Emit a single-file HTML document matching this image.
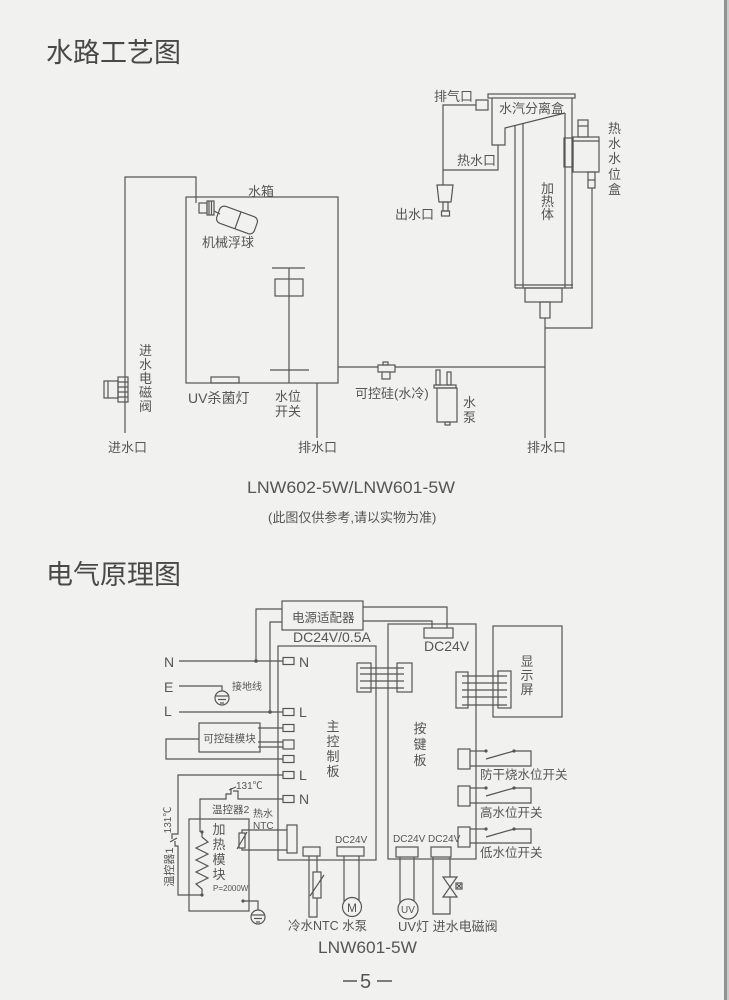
<!DOCTYPE html>
<html><head><meta charset="utf-8">
<style>
html,body{margin:0;padding:0;background:#f1f2ef;}
svg{display:block;}
text{font-family:"Liberation Sans","Noto Sans CJK SC",sans-serif;fill:#555;}
</style></head><body>
<svg width="729" height="1000" viewBox="0 0 729 1000" xmlns="http://www.w3.org/2000/svg">
<rect width="729" height="1000" fill="#f1f2ef"/>
<rect x="724" y="0" width="3" height="1000" fill="#8e9492"/>
<rect x="727" y="0" width="2" height="1000" fill="#c9cdcb"/>

<!-- Titles -->
<text x="46" y="62" font-size="27" style="fill:#484848">水路工艺图</text>
<text x="46" y="584" font-size="27" style="fill:#484848">电气原理图</text>

<!-- ============ WATER DIAGRAM ============ -->
<g fill="none" stroke="#555" stroke-width="1.2">
  <!-- inlet pipe -->
  <polyline points="125,433 125,177 196,177 196,203"/>
  <!-- tank -->
  <rect x="186" y="197" width="152" height="186"/>
  <!-- level switch -->
  <line x1="289" y1="268" x2="289" y2="383"/>
  <line x1="272" y1="268" x2="305" y2="268"/>
  <rect x="275" y="279" width="28" height="17"/>
  <line x1="270" y1="370" x2="309" y2="370"/>
  <!-- UV lamp -->
  <rect x="211" y="377" width="28" height="6"/>
  <!-- drain -->
  <line x1="317" y1="383" x2="317" y2="438"/>
  <!-- outlet line -->
  <line x1="338" y1="367" x2="545" y2="367"/>
  <!-- main vertical -->
  <line x1="545" y1="318" x2="545" y2="438"/>
  <!-- level box return -->
  <polyline points="592,188 592,328 545,328"/>
  <!-- vent & hot lines -->
  <polyline points="476,105 443,105 443,185"/>
  <polyline points="498,145 498,170 443,170"/>
  <!-- heater -->
  <line x1="515" y1="125.5" x2="515" y2="288"/>
  <line x1="523" y1="123.5" x2="523" y2="288"/>
  <line x1="565" y1="113" x2="565" y2="288"/>
  <line x1="572" y1="98" x2="572" y2="288"/>
  <line x1="515" y1="285" x2="573" y2="285"/>
  <line x1="515" y1="288" x2="573" y2="288"/>
  <rect x="525" y="288" width="37" height="14"/>
  <rect x="540" y="302" width="10" height="16"/>
  <!-- separator -->
  <rect x="488" y="94" width="87" height="4"/>
  <polyline points="492,98 492,145 505,145 505,128 565,113"/>
  <rect x="476" y="100" width="12" height="10"/>
  <!-- outlet nozzle -->
  <path d="M437,185 L453,185 L451,202 L439,202 Z"/>
  <rect x="443" y="202" width="5" height="9"/>
  <rect x="441.5" y="211" width="8" height="5"/>
  <!-- hot water level box -->
  <rect x="578" y="120" width="10" height="17"/>
  <line x1="578" y1="126" x2="588" y2="126"/>
  <rect x="573" y="137" width="26" height="35"/>
  <line x1="573" y1="141" x2="599" y2="141"/>
  <rect x="564" y="138" width="9" height="29"/>
  <rect x="588" y="172" width="7" height="16"/>
  <line x1="588" y1="180" x2="595" y2="180"/>
  <!-- SCR water-cooled -->
  <rect x="378" y="365" width="17" height="7" fill="#f1f2ef"/>
  <rect x="382" y="372" width="8" height="7" fill="#f1f2ef"/>
  <rect x="383" y="362" width="5" height="3"/>
  <!-- pump -->
  <rect x="436" y="370" width="4" height="15"/>
  <rect x="447" y="372" width="4" height="13"/>
  <rect x="434" y="385" width="22" height="3"/>
  <rect x="437" y="388" width="20" height="34"/>
  <rect x="445" y="422" width="5" height="3"/>
  <!-- float valve -->
  <rect x="199" y="203" width="8" height="10"/>
  <rect x="207" y="201" width="7" height="14"/>
  <line x1="209" y1="201" x2="209" y2="215"/>
  <line x1="211.5" y1="201" x2="211.5" y2="215"/>
  <line x1="214" y1="211" x2="220" y2="214"/>
  <g transform="rotate(20 237 220)">
    <rect x="217" y="211" width="40" height="18" rx="5"/>
    <line x1="238" y1="211" x2="238" y2="229"/>
  </g>
  <!-- inlet solenoid valve -->
  <rect x="104" y="381" width="14" height="17"/>
  <line x1="108" y1="381" x2="108" y2="398"/>
  <rect x="118" y="377" width="10" height="25"/>
  <line x1="118" y1="382" x2="128" y2="382"/>
  <line x1="118" y1="387" x2="128" y2="387"/>
  <line x1="118" y1="392" x2="128" y2="392"/>
  <line x1="118" y1="397" x2="128" y2="397"/>
</g>

<!-- water texts -->
<g font-size="13">
  <text x="248" y="196">水箱</text>
  <text x="202" y="247">机械浮球</text>
  <text x="188" y="403" font-size="14">UV杀菌灯</text>
  <text x="275" y="401">水位</text>
  <text x="275" y="416">开关</text>
  <text x="108" y="452">进水口</text>
  <text x="298" y="452">排水口</text>
  <text x="139" y="355">进</text>
  <text x="139" y="369">水</text>
  <text x="139" y="383">电</text>
  <text x="139" y="397">磁</text>
  <text x="139" y="411">阀</text>
  <text x="355" y="398">可控硅(水冷)</text>
  <text x="463" y="407">水</text>
  <text x="463" y="422">泵</text>
  <text x="527" y="452">排水口</text>
  <text x="434" y="101">排气口</text>
  <text x="499" y="113">水汽分离盒</text>
  <text x="457" y="165">热水口</text>
  <text x="395" y="219">出水口</text>
  <text x="541" y="193">加</text>
  <text x="541" y="206">热</text>
  <text x="541" y="219">体</text>
  <text x="608" y="133">热</text>
  <text x="608" y="148">水</text>
  <text x="608" y="163">水</text>
  <text x="608" y="179">位</text>
  <text x="608" y="194">盒</text>
</g>
<text x="247" y="493" font-size="17" textLength="208" lengthAdjust="spacingAndGlyphs">LNW602-5W/LNW601-5W</text>
<text x="268" y="522" font-size="13">(此图仅供参考,请以实物为准)</text>

<!-- ============ ELECTRICAL DIAGRAM ============ -->
<g fill="none" stroke="#555" stroke-width="1.2">
  <rect x="282" y="601" width="81" height="29"/>
  <polyline points="282,609 256,609 256,661"/>
  <polyline points="282,622 270,622 270,712"/>
  <polyline points="363,607 447,607 447,628"/>
  <polyline points="363,621 432,621 432,628"/>
  <rect x="424" y="628" width="29" height="10"/>
  <!-- boards -->
  <rect x="388" y="624" width="88" height="235"/>
  <rect x="278" y="646" width="98" height="214"/>
  <!-- N E L -->
  <line x1="179" y1="661" x2="283" y2="661"/>
  <polyline points="179,686 222,686 222,691"/>
  <circle cx="222" cy="698" r="7"/>
  <line x1="216" y1="696" x2="228" y2="696"/>
  <line x1="218" y1="699.5" x2="226" y2="699.5"/>
  <line x1="220" y1="703" x2="224" y2="703"/>
  <line x1="179" y1="712" x2="283" y2="712"/>
  <!-- terminals -->
  <rect x="283" y="657.5" width="11" height="7"/>
  <rect x="283" y="708.5" width="11" height="7"/>
  <rect x="283" y="724.5" width="11" height="7"/>
  <rect x="283" y="740" width="11" height="9"/>
  <rect x="283" y="755.5" width="11" height="7"/>
  <rect x="283" y="771.5" width="11" height="7"/>
  <rect x="283" y="795.5" width="11" height="7"/>
  <!-- SCR module -->
  <rect x="199" y="723" width="61" height="29"/>
  <line x1="258" y1="728" x2="283" y2="728"/>
  <line x1="258" y1="742" x2="283" y2="742"/>
  <line x1="258" y1="747" x2="283" y2="747"/>
  <polyline points="199,739 166,739 166,759 283,759"/>
  <!-- L to thermostat1 -->
  <polyline points="283,775 178,775 178,834 172,834 172,839"/>
  <polyline points="175,841 175,846 178,846 178,895 202,895"/>
  <line x1="170" y1="842" x2="177" y2="838"/>
  <!-- N to thermostat2 -->
  <polyline points="283,799 238,799 238,791 233,791"/>
  <polyline points="231,788 231,794 226,794 226,799 200,799 200,832"/>
  <line x1="229" y1="790" x2="236" y2="787"/>
  <!-- heater -->
  <rect x="189" y="819" width="60" height="92"/>
  <polyline points="202,832 202,837 208,842 196,848 208,854 196,860 208,866 196,872 208,878 196,884 202,889 202,895"/>
  <polyline points="243,901 258,901 258,910"/>
  <circle cx="258" cy="917" r="7"/>
  <line x1="252" y1="915" x2="264" y2="915"/>
  <line x1="254" y1="918.5" x2="262" y2="918.5"/>
  <line x1="256" y1="922" x2="260" y2="922"/>
  <!-- hot NTC -->
  <rect x="239" y="833" width="6" height="15"/>
  <line x1="237" y1="849" x2="247" y2="832"/>
  <polyline points="242,833 242,830 287,830"/>
  <polyline points="242,848 242,850 287,850"/>
  <rect x="287" y="825" width="10" height="28"/>
  <!-- cold NTC -->
  <rect x="303" y="847" width="17" height="9"/>
  <polyline points="309,856 309,917 317,917 317,898"/>
  <line x1="317" y1="856" x2="317" y2="872"/>
  <rect x="313" y="872" width="8" height="26"/>
  <line x1="310" y1="896" x2="324" y2="875"/>
  <!-- pump -->
  <rect x="337" y="847" width="27" height="9"/>
  <line x1="344" y1="856" x2="344" y2="903"/>
  <line x1="359" y1="856" x2="359" y2="903"/>
  <circle cx="352" cy="907" r="9.5" fill="#f1f2ef"/>
  <!-- board connectors -->
  <rect x="357" y="663" width="14" height="29"/>
  <rect x="397" y="663" width="15" height="29"/>
  <line x1="360" y1="668" x2="404" y2="668"/>
  <line x1="360" y1="674" x2="404" y2="674"/>
  <line x1="360" y1="681" x2="404" y2="681"/>
  <line x1="360" y1="688" x2="404" y2="688"/>
  <rect x="456" y="672" width="12" height="36"/>
  <rect x="498" y="671" width="13" height="37"/>
  <line x1="462" y1="676" x2="507" y2="676"/>
  <line x1="462" y1="683" x2="507" y2="683"/>
  <line x1="462" y1="690" x2="507" y2="690"/>
  <line x1="462" y1="697" x2="507" y2="697"/>
  <line x1="462" y1="705" x2="507" y2="705"/>
  <rect x="493" y="626" width="69" height="91"/>
  <!-- switches -->
  <rect x="458" y="749" width="12" height="20"/>
  <polyline points="470,751 486,751"/>
  <line x1="486" y1="759" x2="514" y2="751"/>
  <polyline points="514,751 531,751 531,766 470,766"/>
  <rect x="458" y="786" width="12" height="20"/>
  <polyline points="470,788 486,788"/>
  <line x1="486" y1="796" x2="514" y2="788"/>
  <polyline points="514,788 531,788 531,803 470,803"/>
  <rect x="458" y="827" width="12" height="20"/>
  <polyline points="470,829 486,829"/>
  <line x1="486" y1="837" x2="514" y2="829"/>
  <polyline points="514,829 531,829 531,843 470,843"/>
  <!-- UV -->
  <rect x="396" y="847" width="22" height="10"/>
  <line x1="400" y1="857" x2="400" y2="904"/>
  <line x1="414" y1="857" x2="414" y2="904"/>
  <circle cx="408" cy="909" r="10" fill="#f1f2ef"/>
  <!-- valve -->
  <rect x="431" y="847" width="20" height="10"/>
  <polyline points="433,857 433,914 450,914 450,857"/>
  <path d="M443,877 L457,877 L443,897 L457,897 Z" fill="#f1f2ef"/>
  <rect x="456" y="883" width="6" height="6"/>
  <line x1="457" y1="884" x2="461" y2="888"/>
  <line x1="461" y1="884" x2="457" y2="888"/>
</g>
<g fill="#555">
  <circle cx="256" cy="661" r="1.8"/>
  <circle cx="270" cy="712" r="1.8"/>
  <circle cx="202" cy="832" r="1.6"/>
  <circle cx="202" cy="895" r="1.6"/>
  <circle cx="243" cy="901" r="1.6"/>
  <circle cx="486" cy="751" r="1.6"/>
  <circle cx="514" cy="751" r="1.6"/>
  <circle cx="486" cy="788" r="1.6"/>
  <circle cx="514" cy="788" r="1.6"/>
  <circle cx="486" cy="829" r="1.6"/>
  <circle cx="514" cy="829" r="1.6"/>
</g>

<!-- electrical texts -->
<text x="292" y="622" font-size="12.5">电源适配器</text>
<text x="293" y="642" font-size="14">DC24V/0.5A</text>
<text x="424" y="651" font-size="14">DC24V</text>
<text x="164" y="667" font-size="14">N</text>
<text x="164" y="692" font-size="14">E</text>
<text x="164" y="716" font-size="14">L</text>
<text x="232" y="690" font-size="10">接地线</text>
<text x="299" y="667" font-size="14">N</text>
<text x="299" y="717" font-size="14">L</text>
<text x="299" y="780" font-size="14">L</text>
<text x="299" y="804" font-size="14">N</text>
<text x="229.5" y="742" font-size="10.5" text-anchor="middle">可控硅模块</text>
<g font-size="13">
  <text x="326.5" y="731">主</text>
  <text x="326.5" y="746">控</text>
  <text x="326.5" y="761">制</text>
  <text x="326.5" y="776">板</text>
  <text x="413.5" y="733">按</text>
  <text x="413.5" y="749">键</text>
  <text x="413.5" y="765">板</text>
  <text x="520.5" y="666">显</text>
  <text x="520.5" y="680">示</text>
  <text x="520.5" y="694">屏</text>
  <text x="212.5" y="834">加</text>
  <text x="212.5" y="849">热</text>
  <text x="212.5" y="864">模</text>
  <text x="212.5" y="879">块</text>
</g>
<text x="236" y="789" font-size="10">131℃</text>
<text x="212" y="813" font-size="10.5">温控器2</text>
<text x="253" y="817" font-size="10">热水</text>
<text x="253" y="829" font-size="10">NTC</text>
<text x="213" y="891" font-size="8">P=2000W</text>
<text x="168" y="823" font-size="10" text-anchor="middle" transform="rotate(-90 168 820)">131℃</text>
<text x="169" y="871" font-size="11" text-anchor="middle" transform="rotate(-90 169 867)">温控器1</text>
<text x="335" y="843" font-size="10">DC24V</text>
<text x="393" y="842" font-size="10">DC24V</text>
<text x="428" y="842" font-size="10">DC24V</text>
<text x="352" y="912" font-size="12" text-anchor="middle">M</text>
<text x="408" y="913" font-size="10" text-anchor="middle">UV</text>
<text x="288" y="930" font-size="12.5">冷水NTC 水泵</text>
<text x="398" y="931" font-size="13">UV灯 进水电磁阀</text>
<text x="480" y="779" font-size="12.5">防干烧水位开关</text>
<text x="480" y="817" font-size="12.5">高水位开关</text>
<text x="480" y="857" font-size="12.5">低水位开关</text>
<text x="318" y="953" font-size="17" textLength="99" lengthAdjust="spacingAndGlyphs">LNW601-5W</text>

<!-- page number -->
<line x1="343" y1="981" x2="357" y2="981" stroke="#555" stroke-width="1.5"/>
<text x="360" y="988" font-size="20">5</text>
<line x1="377" y1="981" x2="392" y2="981" stroke="#555" stroke-width="1.5"/>
</svg>
</body></html>
